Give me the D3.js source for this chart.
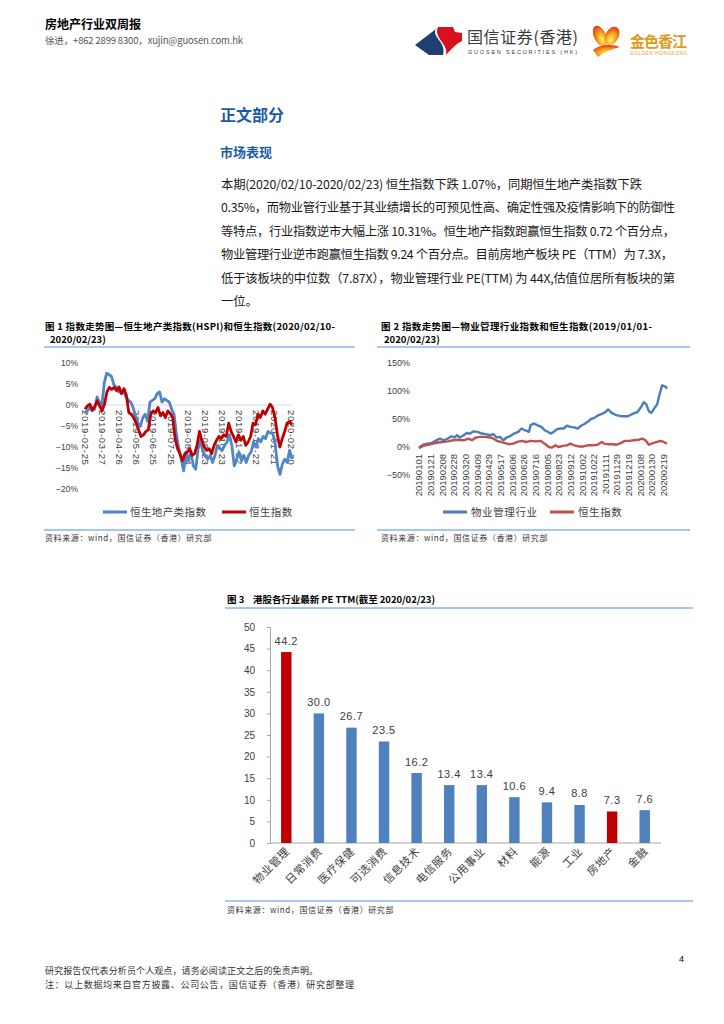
<!DOCTYPE html>
<html>
<head>
<meta charset="utf-8">
<script src="https://cdn.jsdelivr.net/npm/d3@7"></script>
<style>
  body { margin: 0; background: #fff; }
  svg { display: block; }
  text { font-family: "Noto Sans CJK SC", "Liberation Sans", sans-serif; }
  .num { font-family: "Liberation Sans", Arial, sans-serif; }
</style>
</head>
<body>
<div id="page"></div>
<script>
// ---- text content ----
const bodyLines = [
  "本期(2020/02/10-2020/02/23) 恒生指数下跌 1.07%，同期恒生地产类指数下跌",
  "0.35%，而物业管行业基于其业绩增长的可预见性高、确定性强及疫情影响下的防御性",
  "等特点，行业指数逆市大幅上涨 10.31%。恒生地产指数跑赢恒生指数 0.72 个百分点，",
  "物业管理行业逆市跑赢恒生指数 9.24 个百分点。目前房地产板块 PE（TTM）为 7.3X，",
  "低于该板块的中位数（7.87X），物业管理行业 PE(TTM) 为 44X,估值位居所有板块的第",
  "一位。"
];
const sourceText = "资料来源：wind，国信证券（香港）研究部";

// ---- figure 1: HSPI vs HSI, % change (evenly sampled) ----
const hspi = [-1.8, -1.4, -0.6, -1.4, -1, 1.9, 0.7, -0.2, 5.2, 7.6,
  7.2, 6.8, 4.8, 4.3, 3.1, 3.1, 3.5, 1.9, 1.1, 0.7,
  -0.6, -2.6, -4.3, -5.1, -3, -2.2, -3.9, 0.7, 1.1, 1.5,
  2.7, 3.1, 0.7, 1.5, 1.1, 0.7, -1, -2.2, -7.1, -10.4,
  -12.9, -15.7, -11.2, -13.3, -11.2, -14.5, -15.3, -10.4, -8.4, -11.2,
  -12, -12.9, -12, -13.7, -12, -9.6, -10.4, -10.8, -9.6, -8.8,
  -7.1, -9.6, -14.5, -12.9, -11.2, -13.3, -12, -13.7, -12, -11.2,
  -8.8, -10, -8, -8.8, -7.5, -8, -6.3, -6.7, -6.7, -9.2,
  -14.5, -16.5, -14.1, -12.9, -13.7, -10.8, -12.9];
const hsi1 = [-1, -0.2, 0.2, -1.2, -0.4, 1, -0.2, -1.4, 0.2, 3.1,
  4.2, 3.7, 4.2, 3.4, 4.3, 2.7, 3.9, 2.3, -1.8, -2.2,
  -3, -4.3, -5.9, -7.5, -7.1, -6.3, -5.9, -2.2, -1.4, -1.8,
  -0.6, -2.6, -1.8, -3, -1.4, -2, -3, -8, -10.4, -11.6,
  -13.3, -11.6, -11.2, -10.4, -12, -11.6, -9.6, -6.3, -8.4, -10,
  -10.8, -10.4, -11.6, -9.6, -8.4, -7.5, -8, -7.1, -7.5, -4.3,
  -6.3, -7.5, -8.8, -7.1, -8.4, -7.5, -9.6, -8.8, -7.5, -4.3,
  -4.7, -2.2, -3, -1.4, -2.2, -1, 0.2, -0.6, -3, -7.1,
  -10, -8, -6.3, -4.3, -3.9, -4.7];
const fig1Ticks = ["2019-02-25", "2019-03-27", "2019-04-26", "2019-05-26", "2019-06-25",
  "2019-07-25", "2019-08-24", "2019-09-23", "2019-10-23", "2019-11-22", "2019-12-22",
  "2020-01-21", "2020-02-20"];
const fig1YTicks = [10, 5, 0, -5, -10, -15, -20];

// ---- figure 2: property management vs HSI, [trading day, %] ----
const pmIndex = [[0, -1], [5, 4], [10, 6], [15, 7], [20, 11], [25, 15], [30, 12], [35, 15], [39, 19], [43, 17],
  [46, 21], [49, 17], [54, 21], [58, 25], [62, 24], [66, 28], [71, 27], [76, 24], [81, 23], [86, 21],
  [90, 23], [94, 17], [98, 18], [102, 12], [106, 17], [110, 19], [115, 24], [120, 27], [124, 33], [128, 30],
  [133, 27], [135, 39], [139, 42], [143, 39], [148, 36], [152, 30], [156, 27], [159, 24], [163, 27], [167, 32],
  [171, 33], [175, 33], [179, 38], [183, 36], [188, 35], [192, 33], [196, 38], [200, 41], [204, 45], [208, 50],
  [212, 52], [216, 56], [221, 59], [225, 62], [229, 67], [233, 61], [237, 58], [241, 56], [245, 55], [249, 55],
  [253, 55], [257, 58], [261, 61], [264, 62], [268, 70], [272, 80], [275, 76], [278, 64], [281, 61], [285, 70],
  [288, 76], [291, 94], [294, 110], [298, 108], [300, 104]];
const hsi2 = [[0, -2], [5, 2], [11, 4], [17, 6], [23, 8], [29, 9], [35, 10], [41, 12], [47, 13], [54, 12],
  [60, 15], [64, 12], [69, 17], [74, 18], [80, 18], [86, 17], [90, 15], [94, 11], [99, 9], [104, 7],
  [109, 5], [114, 6], [119, 9], [124, 11], [130, 9], [135, 11], [141, 10], [147, 11], [152, 6], [157, 0],
  [161, -1], [165, 3], [169, 0], [174, 2], [179, 3], [183, 6], [188, 3], [193, 1], [199, 1], [204, 3],
  [210, 3], [216, 4], [221, 9], [224, 6], [229, 5], [234, 5], [239, 4], [244, 7], [249, 11], [254, 11],
  [260, 12], [266, 13], [270, 15], [274, 12], [278, 4], [283, 7], [288, 9], [292, 11], [296, 9], [300, 6]];
const fig2Ticks = ["20190101", "20190121", "20190208", "20190228", "20190320", "20190409", "20190429",
  "20190517", "20190606", "20190626", "20190716", "20190805", "20190823", "20190912", "20191002",
  "20191022", "20191111", "20191129", "20191219", "20200108", "20200130", "20200219"];
const fig2YTicks = [150, 100, 50, 0, -50];

// ---- figure 3: PE TTM by sector ----
const sectors = ["物业管理", "日常消费", "医疗保健", "可选消费", "信息技术", "电信服务",
  "公用事业", "材料", "能源", "工业", "房地产", "金融"];
const pe = [44.2, 30.0, 26.7, 23.5, 16.2, 13.4, 13.4, 10.6, 9.4, 8.8, 7.3, 7.6];
const highlighted = ["物业管理", "房地产"];
const peTicks = [0, 5, 10, 15, 20, 25, 30, 35, 40, 45, 50];

const svg = d3.select("#page").append("svg")
    .attr("width", 724)
    .attr("height", 1024);

function txt(g, x, y, s, o = {}) {
    const t = g.append("text")
        .attr("x", x).attr("y", y)
        .attr("font-size", o.size || 10)
        .attr("fill", o.fill || "#000")
        .text(s);
    if (o.weight) t.attr("font-weight", o.weight);
    if (o.anchor) t.attr("text-anchor", o.anchor);
    if (o.ls) t.attr("letter-spacing", o.ls);
    if (o.len) t.attr("textLength", o.len).attr("lengthAdjust", o.adjust || "spacing");
    if (o.cls) t.attr("class", o.cls);
    return t;
}
function rule(g, x1, x2, y) {
    g.append("line").attr("x1", x1).attr("x2", x2).attr("y1", y).attr("y2", y)
        .attr("stroke", "#8db4e2").attr("stroke-width", 1.3);
}
const pct = d => (d < 0 ? "\u2212" : "") + Math.abs(d) + "%";

// ---- header ----
const head = svg.append("g");
txt(head, 45, 29, "房地产行业双周报", { size: 12, weight: "bold" });
txt(head, 45, 44, "徐进，+862 2899 8300，xujin@guosen.com.hk", { size: 9.5, fill: "#555", len: 198 });

// guosen logo
head.append("path").attr("d", "M415,45 L436,29 C431,37 447,42 443,55 L429,55 Z").attr("fill", "#1f3f73");
head.append("path").attr("d", "M438,27 L453,27 L455,32 L462,33 L462,41 C456,44 451,49 446,55 C449,44 433,38 438,27 Z")
    .attr("fill", "#d7121d");
txt(head, 467, 43, "国信证券(香港)", { size: 16, fill: "#3a3a3a", len: 111 });
txt(head, 468, 54, "GUOSEN SECURITIES (HK)", { size: 5.5, fill: "#3a3a3a", len: 109, cls: "num" });

// golden hongkong logo
const defs = svg.append("defs");
const grad = defs.append("radialGradient").attr("id", "flame").attr("cx", "55%").attr("cy", "70%").attr("r", "70%");
grad.append("stop").attr("offset", "0%").attr("stop-color", "#fff27a");
grad.append("stop").attr("offset", "45%").attr("stop-color", "#f7b21a");
grad.append("stop").attr("offset", "100%").attr("stop-color", "#e2331b");
const fl = head.append("g").attr("fill", "url(#flame)");
fl.append("ellipse").attr("cx", 600).attr("cy", 36).attr("rx", 6).attr("ry", 11).attr("transform", "rotate(-25,600,36)");
fl.append("ellipse").attr("cx", 612).attr("cy", 36).attr("rx", 6.5).attr("ry", 10).attr("transform", "rotate(28,612,36)");
fl.append("path").attr("d", "M593,50 C600,44 612,44 620,47 C612,49 604,52 598,57 Z");
txt(head, 630, 47, "金色香江", { size: 15, fill: "#d99a1e", weight: "bold", len: 57 });
txt(head, 630, 55, "GOLDEN HONGKONG", { size: 4.5, fill: "#d99a1e", len: 57, cls: "num" });

// ---- headings and body ----
txt(svg, 220, 121, "正文部分", { size: 16, fill: "#1b5baa", weight: "bold" });
txt(svg, 220, 157, "市场表现", { size: 13, fill: "#1b5baa", weight: "bold" });
const lineEnds = [642, 675, 675, 673, 675, null];
bodyLines.forEach((s, i) => {
    const o = { size: 12.3, fill: "#1a1a1a" };
    if (lineEnds[i]) o.len = lineEnds[i] - 221;
    txt(svg, 221, 189 + i * 23.4, s, o);
});

// ---- figure 1 ----
const f1 = svg.append("g");
txt(f1, 45, 330, "图 1 指数走势图—恒生地产类指数(HSPI)和恒生指数(2020/02/10-", { size: 9.5, weight: "bold", len: 290 });
txt(f1, 50, 343, "2020/02/23)", { size: 9.5, weight: "bold" });
rule(f1, 44, 355, 347);

const x1a = d3.scaleLinear().domain([0, hspi.length - 1]).range([85, 292]);
const x1b = d3.scaleLinear().domain([0, hsi1.length - 1]).range([85, 292]);
const y1 = d3.scaleLinear().domain([-20, 10]).range([489, 363]);
const x1t = d3.scalePoint().domain(fig1Ticks).range([85, 291]);

f1.append("line").attr("x1", 85).attr("x2", 292).attr("y1", y1(0)).attr("y2", y1(0))
    .attr("stroke", "#d9d9d9").attr("stroke-width", 1);

f1.append("g").selectAll("text").data(fig1YTicks).enter().append("text")
    .attr("class", "num")
    .attr("x", 78).attr("y", d => y1(d)).attr("dy", "0.35em")
    .attr("text-anchor", "end").attr("font-size", 8.5).attr("fill", "#404040")
    .text(pct);

f1.append("g").selectAll("text").data(fig1Ticks).enter().append("text")
    .attr("class", "num")
    .attr("transform", d => `translate(${x1t(d)},${y1(0) + 5}) rotate(90)`)
    .attr("dy", "0.35em").attr("font-size", 9.5).attr("letter-spacing", 0.7)
    .attr("fill", "#404040")
    .text(d => d);

const line1a = d3.line().x((d, i) => x1a(i)).y(d => y1(d));
const line1b = d3.line().x((d, i) => x1b(i)).y(d => y1(d));
f1.append("path").datum(hspi).attr("d", line1a)
    .attr("fill", "none").attr("stroke", "#4f86c6").attr("stroke-width", 2.8).attr("stroke-linejoin", "round");
f1.append("path").datum(hsi1).attr("d", line1b)
    .attr("fill", "none").attr("stroke", "#c00000").attr("stroke-width", 2.8).attr("stroke-linejoin", "round");

const leg1 = [
    { name: "恒生地产类指数", color: "#4f86c6", x: 103 },
    { name: "恒生指数", color: "#c00000", x: 222 }
];
leg1.forEach(l => {
    f1.append("line").attr("x1", l.x).attr("x2", l.x + 24).attr("y1", 512).attr("y2", 512)
        .attr("stroke", l.color).attr("stroke-width", 3);
    txt(f1, l.x + 27, 516, l.name, { size: 10.5, fill: "#404040", ls: 0.4 });
});
rule(f1, 44, 355, 530);
txt(f1, 45, 541, sourceText, { size: 8, fill: "#333", ls: 0.6 });

// ---- figure 2 ----
const f2 = svg.append("g");
txt(f2, 381, 330, "图 2 指数走势图—物业管理行业指数和恒生指数(2019/01/01-", { size: 9.5, weight: "bold", len: 271 });
txt(f2, 384, 343, "2020/02/23)", { size: 9.5, weight: "bold" });
rule(f2, 377, 690, 347);

const x2 = d3.scaleLinear().domain([0, 300]).range([419, 667]);
const y2 = d3.scaleLinear().domain([-50, 150]).range([475, 363]);

f2.append("g").selectAll("text").data(fig2YTicks).enter().append("text")
    .attr("class", "num")
    .attr("x", 410).attr("y", d => y2(d)).attr("dy", "0.35em")
    .attr("text-anchor", "end").attr("font-size", 9).attr("fill", "#404040")
    .text(pct);

f2.append("g").selectAll("text").data(fig2Ticks).enter().append("text")
    .attr("class", "num")
    .attr("transform", (d, i) => `translate(${x2(i * 14.1)},454) rotate(-90)`)
    .attr("dy", "0.35em").attr("text-anchor", "end")
    .attr("font-size", 9.5).attr("fill", "#404040")
    .text(d => d);

const line2 = d3.line().x(d => x2(d[0])).y(d => y2(d[1]));
f2.append("path").datum(pmIndex).attr("d", line2)
    .attr("fill", "none").attr("stroke", "#4a7ebb").attr("stroke-width", 2.4).attr("stroke-linejoin", "round");
f2.append("path").datum(hsi2).attr("d", line2)
    .attr("fill", "none").attr("stroke", "#c0504d").attr("stroke-width", 2.4).attr("stroke-linejoin", "round");

const leg2 = [
    { name: "物业管理行业", color: "#4a7ebb", x: 443 },
    { name: "恒生指数", color: "#c0504d", x: 550 }
];
leg2.forEach(l => {
    f2.append("line").attr("x1", l.x).attr("x2", l.x + 24).attr("y1", 512).attr("y2", 512)
        .attr("stroke", l.color).attr("stroke-width", 3);
    txt(f2, l.x + 28, 516, l.name, { size: 10.5, fill: "#404040", ls: 0.6 });
});
rule(f2, 377, 690, 530);
txt(f2, 381, 541, sourceText, { size: 8, fill: "#333", ls: 0.6 });

// ---- figure 3 ----
const f3 = svg.append("g");
txt(f3, 227, 603, "图 3", { size: 9.5, weight: "bold" });
txt(f3, 253, 603, "港股各行业最新 PE TTM(截至 2020/02/23)", { size: 9.5, weight: "bold", len: 182 });
rule(f3, 225, 693, 608);

const xb = d3.scaleBand().domain(sectors).range([270, 661]).paddingInner(0.68).paddingOuter(0.34);
const yb = d3.scaleLinear().domain([0, 50]).range([843, 627]);

const yAxis = f3.append("g").attr("transform", "translate(270,0)")
    .call(d3.axisLeft(yb).tickValues(peTicks).tickSize(3).tickPadding(12));
yAxis.selectAll("path, line").attr("stroke", "#a6a6a6");
yAxis.selectAll("text").attr("class", "num").attr("font-size", 10).attr("fill", "#404040");

f3.append("line").attr("x1", 270).attr("x2", 661).attr("y1", yb(0)).attr("y2", yb(0))
    .attr("stroke", "#a6a6a6").attr("stroke-width", 1);

f3.append("g").selectAll("rect").data(sectors).enter().append("rect")
    .attr("x", d => xb(d))
    .attr("y", (d, i) => yb(pe[i]))
    .attr("width", xb.bandwidth())
    .attr("height", (d, i) => yb(0) - yb(pe[i]))
    .attr("fill", d => highlighted.includes(d) ? "#c00000" : "#4f81bd");

f3.append("g").selectAll("text").data(sectors).enter().append("text")
    .attr("class", "num")
    .attr("x", d => xb(d) + xb.bandwidth() / 2)
    .attr("y", (d, i) => yb(pe[i]) - 7.5)
    .attr("text-anchor", "middle").attr("font-size", 11).attr("letter-spacing", 0.5)
    .attr("fill", "#404040")
    .text((d, i) => pe[i].toFixed(1));

f3.append("g").selectAll("text").data(sectors).enter().append("text")
    .attr("transform", d => `translate(${xb(d) + xb.bandwidth() / 2 + 4},852) rotate(-45)`)
    .attr("text-anchor", "end").attr("font-size", 11).attr("letter-spacing", 0.6)
    .attr("fill", "#404040")
    .text(d => d);

rule(f3, 225, 693, 901);
txt(f3, 227, 913, sourceText, { size: 8, fill: "#333", ls: 0.6 });

// ---- footer ----
txt(svg, 684, 962, "4", { size: 9, anchor: "end", cls: "num" });
txt(svg, 45, 974, "研究报告仅代表分析员个人观点，请务必阅读正文之后的免责声明。", { size: 9, fill: "#333", len: 273 });
txt(svg, 45, 988, "注：以上数据均来自官方披露、公司公告，国信证券（香港）研究部整理", { size: 9, fill: "#333", len: 309 });
</script>
</body>
</html>
